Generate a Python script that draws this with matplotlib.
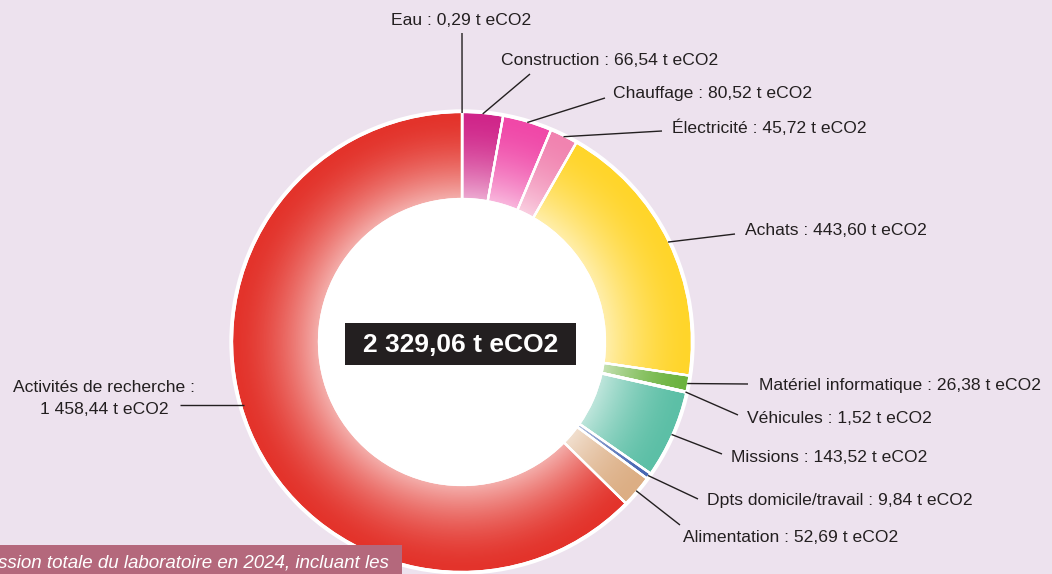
import numpy as np
import matplotlib
matplotlib.use("Agg")
import matplotlib.pyplot as plt
from matplotlib.patches import Wedge, Circle, Rectangle

plt.rcParams["font.family"] = ["Liberation Sans", "DejaVu Sans"]

# Emission sources, clockwise from 12 o'clock (t eCO2)
categories = ["Eau", "Construction", "Chauffage", "Électricité", "Achats",
              "Matériel informatique", "Véhicules", "Missions",
              "Dpts domicile/travail", "Alimentation", "Activités de recherche"]
values = [0.29, 66.54, 80.52, 45.72, 443.60, 26.38, 1.52, 143.52, 9.84, 52.69, 1458.44]
colors = ["#2f7fc1", "#d0268a", "#f048a8", "#f183b0", "#ffd52a", "#6cb33e",
          "#8a5aa8", "#5cbfa6", "#4767b2", "#dcae84", "#e3332b"]
unit = "t eCO2"
caption = "ssion totale du laboratoire en 2024, incluant les"

W, H = 1052, 574
BG = "#ede2ee"
INK = "#231f20"

# donut geometry (pixel space)
cx, cy = 462, 342
r_out, r_in = 230, 143

# label placement: text anchor (x, baseline y, ha) and leader end point
label_layout = {
    "Eau": ((461, 25, "center"), (462, 33)),
    "Construction": ((501, 65, "left"), (530, 74)),
    "Chauffage": ((613, 98, "left"), (605, 98)),
    "Électricité": ((672, 133, "left"), (662, 131)),
    "Achats": ((745, 235, "left"), (735, 234)),
    "Matériel informatique": ((759, 390, "left"), (748, 384)),
    "Véhicules": ((747, 423, "left"), (738, 415)),
    "Missions": ((731, 462, "left"), (722, 454)),
    "Dpts domicile/travail": ((707, 505, "left"), (698, 499)),
    "Alimentation": ((683, 542, "left"), (680, 525)),
    "Activités de recherche": ((104, 392, "center"), (180, 405)),
}


def fr_number(v):
    s = f"{v:,.2f}"
    return s.replace(",", " ").replace(".", ",")


fig = plt.figure(figsize=(W / 100, H / 100), dpi=100)
fig.patch.set_facecolor(BG)
ax = fig.add_axes([0, 0, 1, 1])
ax.set_xlim(0, W)
ax.set_ylim(H, 0)
ax.set_aspect("equal")
ax.axis("off")
ax.set_facecolor(BG)

total = sum(values)
fracs = np.array(values) / total
ends = np.cumsum(fracs) * 360.0
starts = ends - fracs * 360.0

# slices (y axis points down, so increasing angle runs clockwise)
for s, e, c in zip(starts, ends, colors):
    ax.add_patch(Wedge((cx, cy), r_out, -90 + s, -90 + e, width=r_out - r_in,
                       facecolor=c, edgecolor="white", linewidth=1.6, zorder=2))

# radial light wash, strongest toward the hole
n = 700
g = np.linspace(-r_out, r_out, n)
X, Y = np.meshgrid(g, g)
R = np.hypot(X, Y)
t = np.clip((r_out - R) / (r_out - r_in), 0, 1)
wash = np.ones((n, n, 4))
wash[..., 3] = 0.62 * t ** 1.7
im = ax.imshow(wash, extent=(cx - r_out, cx + r_out, cy + r_out, cy - r_out),
               origin="upper", interpolation="bilinear", zorder=3)
ring = Wedge((cx, cy), r_out, 0, 360, width=r_out - r_in, transform=ax.transData)
im.set_clip_path(ring)

# slice separators redrawn over the wash
for s, e in zip(starts, ends):
    ax.add_patch(Wedge((cx, cy), r_out, -90 + s, -90 + e, width=r_out - r_in,
                       facecolor="none", edgecolor="white", linewidth=1.6, zorder=4))
ax.add_patch(Circle((cx, cy), r_out + 1, facecolor="none", edgecolor="white",
                    linewidth=2.4, zorder=4))
ax.add_patch(Circle((cx, cy), r_in, facecolor="white", edgecolor="none", zorder=4))

# labels with leader lines
for name, v, s, e in zip(categories, values, starts, ends):
    (tx, ty, ha), (lx, ly) = label_layout[name]
    if name == "Activités de recherche":
        # horizontal leader to the left edge of the ring
        sx = cx - np.sqrt(r_out ** 2 - (ly - cy) ** 2) + 3
        sy = ly
        ax.text(tx, ty, f"{name} :", ha="center", va="baseline",
                fontsize=12.6, color=INK, zorder=6)
        ax.text(tx, ty + 22, f"{fr_number(v)} {unit}", ha="center",
                va="baseline", fontsize=12.6, color=INK, zorder=6)
    else:
        mid = np.deg2rad(-90 + (s + e) / 2)
        sx = cx + (r_out - 1) * np.cos(mid)
        sy = cy + (r_out - 1) * np.sin(mid)
        ax.text(tx, ty, f"{name} : {fr_number(v)} {unit}", ha=ha,
                va="baseline", fontsize=12.6, color=INK, zorder=6)
    ax.plot([sx, lx], [sy, ly], color=INK, linewidth=1.0, zorder=5,
            solid_capstyle="butt")

# total in the centre
ax.add_patch(Rectangle((345, 323), 231, 42, facecolor=INK, edgecolor="none",
                       zorder=7))
ax.text(461, 345, f"{fr_number(total)} {unit}", ha="center", va="center",
        fontsize=19, fontweight="bold", color="white", zorder=8)

# caption band
ax.add_patch(Rectangle((0, 545), 402, 40, facecolor="#b4687c", edgecolor="none",
                       zorder=7, clip_on=False))
ax.text(-2, 567, caption, ha="left", va="baseline", fontsize=13.5,
        fontstyle="italic", color="white", zorder=8)

fig.savefig("out.png", dpi=100, facecolor=fig.get_facecolor())
